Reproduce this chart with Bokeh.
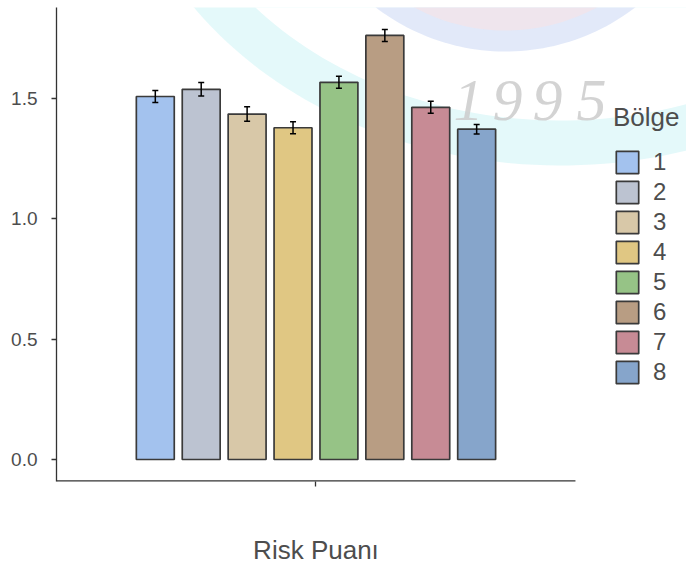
import numpy as np
from bokeh.plotting import figure
from bokeh.models import (ColumnDataSource, Range1d, FixedTicker, Whisker, TeeHead,
                          NumeralTickFormatter)
from bokeh.core.properties import value
from bokeh.embed import file_html
from bokeh.resources import INLINE

# ---- data ----
x_category = "Risk Puanı"
bolge = ["1", "2", "3", "4", "5", "6", "7", "8"]
risk_puani = [1.509, 1.539, 1.436, 1.379, 1.568, 1.763, 1.464, 1.373]
std_err = [0.025, 0.028, 0.030, 0.025, 0.025, 0.025, 0.025, 0.020]
colors = ["#A3C2EE", "#BCC3D1", "#D8C8A8", "#E0C783", "#96C386", "#B89D83", "#C78B95", "#86A5CB"]
y_ticks = [0.0, 0.5, 1.0, 1.5]
watermark_digits = ["1", "9", "9", "5"]

FONT = "Liberation Sans"
TXT = "#4d4d4d"

# frame spans the whole right side so the legend is not clipped;
# the visible x axis baseline ends where the panel of the original ends.
PPU_X = 399.2
FL, FT, FW, FH = 56, 7, 630, 474
x_start = 0.35
x_range = Range1d(x_start, x_start + FW / PPU_X)
y_range = Range1d(-0.0915, 1.879)
x_axis_end = 1.65

p = figure(frame_width=FW, frame_height=FH, x_range=x_range, y_range=y_range,
           output_backend="svg", toolbar_location=None,
           min_border_top=FT, min_border_left=FL, min_border_bottom=567 - FT - FH,
           min_border_right=0)
p.outline_line_color = None
p.xgrid.visible = False
p.ygrid.visible = False
p.background_fill_color = "white"

# ---- faint background watermark (decoration only) ----
def px2d(px, py):
    x = x_range.start + (np.asarray(px, dtype=float) - FL) / FW * (x_range.end - x_range.start)
    y = y_range.end - (np.asarray(py, dtype=float) - FT) / FH * (y_range.end - y_range.start)
    return x, y

t = np.linspace(0, 2 * np.pi, 240)
for (cx, cy, a, b, col, al) in [
        (560, -200, 445, 365, "#d2f5f7", 0.6),
        (560, -200, 400, 320, "#ffffff", 1.0),
        (505, -162, 213, 213, "#d3ddf6", 0.65),
        (505, -162, 192, 192, "#f6e3e6", 0.65)]:
    ex, ey = px2d(cx + a * np.cos(t), cy + b * np.sin(t))
    p.patch(ex, ey, fill_color=col, fill_alpha=al, line_color=None)

wx, wy = px2d([468, 507, 547, 591], [100, 100, 100, 100])
p.text(x=list(wx), y=list(wy), text=watermark_digits, text_font=value("Liberation Serif"),
       text_font_style="italic", text_font_size="60px", text_color="#cbcbcb",
       text_alpha=0.85, text_align="center", text_baseline="alphabetic")

# ---- bars ----
n = len(bolge)
dodge = 0.115
xs = [1 + (i - (n - 1) / 2) * dodge for i in range(n)]
src = ColumnDataSource(dict(x=xs, top=risk_puani, bolge=bolge, color=colors,
                            upper=[v + e for v, e in zip(risk_puani, std_err)],
                            lower=[v - e for v, e in zip(risk_puani, std_err)]))

p.vbar(x="x", top="top", bottom=0, width=0.095, source=src, fill_color="color",
       line_color="#3a3a3a", line_width=1.7, legend_field="bolge")

wh = Whisker(base="x", upper="upper", lower="lower", source=src,
             line_color="black", line_width=1.5, level="overlay",
             upper_head=TeeHead(size=6, line_color="black", line_width=1.5),
             lower_head=TeeHead(size=6, line_color="black", line_width=1.5))
p.add_layout(wh)

# x axis baseline (only as wide as the original panel)
p.segment(x0=[x_range.start], y0=[y_range.start], x1=[x_axis_end], y1=[y_range.start],
          line_color="#333333", line_width=2.6)

# ---- axes ----
for ax in (p.xaxis[0], p.yaxis[0]):
    ax.axis_line_color = "#333333"
    ax.axis_line_width = 1.3
    ax.major_tick_line_color = "#333333"
    ax.major_tick_line_width = 1.3
    ax.major_tick_out = 5
    ax.major_tick_in = 0
    ax.minor_tick_line_color = None
    ax.major_label_text_font = FONT
    ax.major_label_text_color = TXT
p.xaxis.axis_line_color = None

p.yaxis.ticker = FixedTicker(ticks=y_ticks)
p.yaxis.formatter = NumeralTickFormatter(format="0.0")
p.yaxis.major_label_text_font_size = "19px"
p.yaxis.major_label_standoff = 14

# the single x category sits at 1; its name is shown under the group
p.xaxis.ticker = FixedTicker(ticks=[1])
p.xaxis.major_label_overrides = {1: x_category}
p.xaxis.major_label_text_font_size = "26px"
p.xaxis.major_label_standoff = 48

# ---- legend ----
leg = p.legend[0]
leg.title = "Bölge"
leg.title_text_font = FONT
leg.title_text_font_size = "26px"
leg.title_text_font_style = "normal"
leg.title_text_color = TXT
leg.title_standoff = 15
leg.label_text_font = FONT
leg.label_text_font_size = "24px"
leg.label_text_color = TXT
leg.glyph_width = 28
leg.glyph_height = 28
leg.label_height = 28
leg.label_standoff = 12
leg.spacing = 2
leg.padding = 4
leg.margin = 0
leg.border_line_color = None
leg.background_fill_alpha = 0
leg.location = (557, 95)

open("out.html", "w").write(file_html(p, INLINE))
